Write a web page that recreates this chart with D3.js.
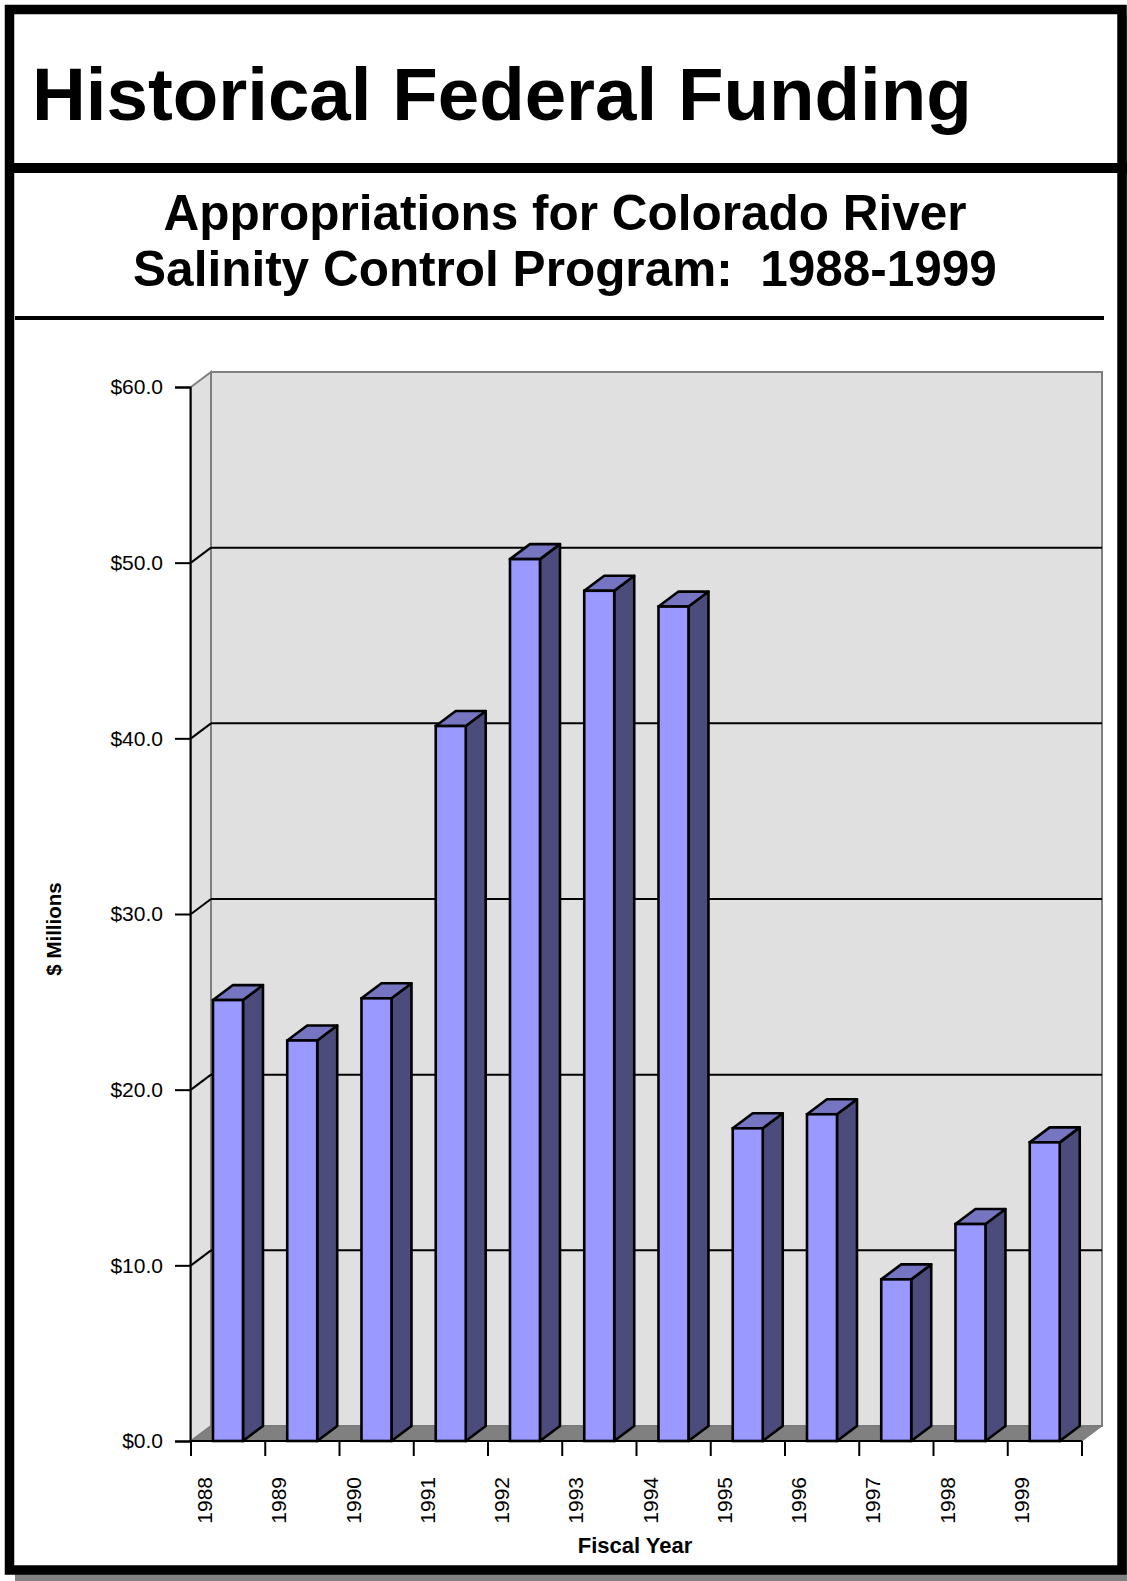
<!DOCTYPE html>
<html>
<head>
<meta charset="utf-8">
<script src="https://cdnjs.cloudflare.com/ajax/libs/d3/7.8.5/d3.min.js"></script>
<style>
  body { margin: 0; background: #fff; }
  text { font-family: "Liberation Sans", Arial, Helvetica, sans-serif; }
</style>
</head>
<body>
<div id="chart"></div>
<script>
// data ($ millions)
var years = ["1988","1989","1990","1991","1992","1993","1994","1995","1996","1997","1998","1999"];
var funding = [25.1, 22.8, 25.2, 40.7, 50.2, 48.4, 47.5, 17.8, 18.6, 9.2, 12.35, 17.0];
var yTicks = [0, 10, 20, 30, 40, 50, 60];

var W = 1127, H = 1581;
var depthX = 20, depthY = 15;

var svg = d3.select("#chart")
  .append("svg")
  .attr("width", W)
  .attr("height", H);

svg.append("rect").attr("width", W).attr("height", H).attr("fill", "#fff");

// frame with shadow
svg.append("rect").attr("x", 15).attr("y", 15).attr("width", 1118).attr("height", 1566).attr("fill", "#808080");
svg.append("rect").attr("x", 9.5).attr("y", 9.5).attr("width", 1112.5).attr("height", 1560.5)
  .attr("fill", "#fff").attr("stroke", "#000").attr("stroke-width", 9.5);
svg.append("rect").attr("x", 5).attr("y", 163).attr("width", 1122).attr("height", 10).attr("fill", "#000");

svg.append("text")
  .attr("x", 32).attr("y", 120)
  .style("font-size", "74.5px").style("font-weight", "bold")
  .text("Historical Federal Funding");

svg.append("text")
  .attr("x", 565).attr("y", 230)
  .attr("text-anchor", "middle")
  .style("font-size", "49.5px").style("font-weight", "bold")
  .text("Appropriations for Colorado River");
svg.append("text")
  .attr("x", 565).attr("y", 286)
  .attr("text-anchor", "middle")
  .style("font-size", "49.5px").style("font-weight", "bold")
  .style("white-space", "pre")
  .text("Salinity Control Program:  1988-1999");

svg.append("rect").attr("x", 15).attr("y", 316).attr("width", 1089).attr("height", 4).attr("fill", "#000");

// scales
var x = d3.scaleBand().domain(years).range([191, 1082]);
var y = d3.scaleLinear().domain([0, 60]).range([1441, 387]);
var bw = x.bandwidth();

var plot = svg.append("g");

// back wall, side wall, floor
plot.append("rect")
  .attr("x", 191 + depthX).attr("y", y(60) - depthY)
  .attr("width", 1082 - 191).attr("height", y(0) - y(60))
  .attr("fill", "#e0e0e0").attr("stroke", "#808080").attr("stroke-width", 2);
plot.append("polygon")
  .attr("points", [[191, y(60)], [191 + depthX, y(60) - depthY], [191 + depthX, y(0) - depthY], [191, y(0)]].join(" "))
  .attr("fill", "#e0e0e0").attr("stroke", "#808080").attr("stroke-width", 2);
plot.append("polygon")
  .attr("points", [[191, y(0)], [1082, y(0)], [1082 + depthX, y(0) - depthY], [191 + depthX, y(0) - depthY]].join(" "))
  .attr("fill", "#808080").attr("stroke", "#777").attr("stroke-width", 1);

// gridlines on walls
var grid = yTicks.filter(function(d) { return d > 0 && d < 60; });
plot.selectAll(".gridback")
  .data(grid).enter().append("line")
  .attr("x1", 191 + depthX).attr("x2", 1082 + depthX)
  .attr("y1", function(d) { return y(d) - depthY; })
  .attr("y2", function(d) { return y(d) - depthY; })
  .attr("stroke", "#000").attr("stroke-width", 2);
plot.selectAll(".gridside")
  .data(grid).enter().append("line")
  .attr("x1", 191).attr("x2", 191 + depthX)
  .attr("y1", function(d) { return y(d); })
  .attr("y2", function(d) { return y(d) - depthY; })
  .attr("stroke", "#000").attr("stroke-width", 2);

// bars
var bars = plot.selectAll(".bar")
  .data(years).enter().append("g");

function fx(i) { return x(years[i]) + bw * 0.296; }
var fw = bw * 0.404;

bars.append("polygon")
  .attr("points", function(d, i) {
    var x0 = fx(i) + fw, yt = y(funding[i]), yb = y(0);
    return [[x0, yt], [x0 + depthX, yt - depthY], [x0 + depthX, yb - depthY], [x0, yb]].join(" ");
  })
  .attr("fill", "#4b4b7c").attr("stroke", "#000").attr("stroke-width", 2.6).attr("stroke-linejoin", "round");
bars.append("polygon")
  .attr("points", function(d, i) {
    var x0 = fx(i), yt = y(funding[i]);
    return [[x0, yt], [x0 + depthX, yt - depthY], [x0 + fw + depthX, yt - depthY], [x0 + fw, yt]].join(" ");
  })
  .attr("fill", "#7575c2").attr("stroke", "#000").attr("stroke-width", 2.6).attr("stroke-linejoin", "round");
bars.append("rect")
  .attr("x", function(d, i) { return fx(i); })
  .attr("y", function(d, i) { return y(funding[i]); })
  .attr("width", fw)
  .attr("height", function(d, i) { return y(0) - y(funding[i]); })
  .attr("fill", "#9999ff").attr("stroke", "#000").attr("stroke-width", 2.6);

// axes
var yAxis = svg.append("g")
  .attr("transform", "translate(190,0)")
  .call(d3.axisLeft(y).tickValues(yTicks).tickSize(15).tickPadding(12)
    .tickFormat(function(d) { return "$" + d.toFixed(1); }));
yAxis.select(".domain").attr("stroke-width", 2);
yAxis.selectAll(".tick line").attr("stroke-width", 2);
yAxis.selectAll("text").style("font-size", "21px").attr("fill", "#000")
  .style("font-family", "'Liberation Sans', Arial, Helvetica, sans-serif");

var xTickPos = years.map(function(d) { return x(d); }).concat([1082]);
var xAxis = svg.append("g");
xAxis.append("line")
  .attr("x1", 190).attr("x2", 1082).attr("y1", y(0)).attr("y2", y(0))
  .attr("stroke", "#000").attr("stroke-width", 2);
xAxis.selectAll(".xt")
  .data(xTickPos).enter().append("line")
  .attr("x1", function(d) { return d; }).attr("x2", function(d) { return d; })
  .attr("y1", y(0)).attr("y2", y(0) + 15)
  .attr("stroke", "#000").attr("stroke-width", 2);
xAxis.selectAll(".xl")
  .data(years).enter().append("text")
  .attr("transform", function(d) { return "translate(" + (x(d) + 13.5) + "," + 1477 + ") rotate(-90)"; })
  .attr("text-anchor", "end")
  .attr("dy", "0.36em")
  .style("font-size", "21px")
  .text(function(d) { return d; });

// axis titles
svg.append("text")
  .attr("x", 635).attr("y", 1553)
  .attr("text-anchor", "middle")
  .style("font-size", "22px").style("font-weight", "bold")
  .text("Fiscal Year");
svg.append("text")
  .attr("transform", "translate(61,929) rotate(-90)")
  .attr("text-anchor", "middle")
  .style("font-size", "20.5px").style("font-weight", "bold")
  .text("$ Millions");
</script>
</body>
</html>
